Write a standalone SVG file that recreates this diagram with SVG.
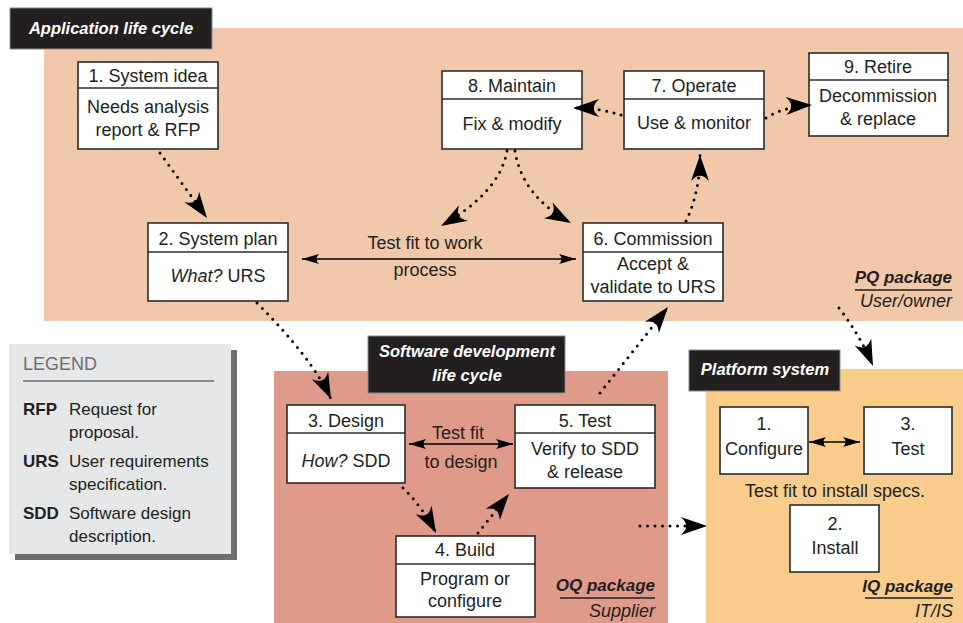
<svg xmlns="http://www.w3.org/2000/svg" width="963" height="623" viewBox="0 0 963 623">
<defs>
<style>
text{font-family:"Liberation Sans",Arial,sans-serif;fill:#231f20;font-size:18px}
.c{text-anchor:middle}
.r{text-anchor:end}
.box{fill:#fff;stroke:#2b2b2b;stroke-width:1.6}
.div{stroke:#2b2b2b;stroke-width:1.6}
.title{fill:#231f20;stroke:#8a8a8a;stroke-width:1}
.tt{fill:#fff;font-weight:bold;font-style:italic;font-size:16.5px}
.pk{font-weight:bold;font-style:italic;font-size:17px}
.pks{font-style:italic;font-size:18px}
.dot{fill:none;stroke:#000;stroke-width:3;stroke-linecap:round;stroke-dasharray:0 7.5}
.sol{fill:none;stroke:#000;stroke-width:1.6}
.lg{font-size:17px}
.lgb{font-size:17px;font-weight:bold}
</style>
<marker id="ah" viewBox="-28 -10 30 20" refX="0" refY="0" markerWidth="30" markerHeight="20" markerUnits="userSpaceOnUse" orient="auto">
<path d="M0,0 L-26,-9 Q-20,-3 -21,0 Q-20,3 -26,9 Z" fill="#000"/>
</marker>
<marker id="sh" viewBox="-18 -6 19 12" refX="0" refY="0" markerWidth="19" markerHeight="12" markerUnits="userSpaceOnUse" orient="auto-start-reverse">
<path d="M0,0 L-17,-5 Q-12,0 -17,5 Z" fill="#000"/>
</marker>
</defs>
<rect width="963" height="623" fill="#fff"/>

<g id="app-region">
<rect x="44" y="28" width="919" height="293" fill="#f1c8a9"/>
<rect class="title" x="10" y="8" width="202" height="41"/>
<text class="tt" x="111" y="34" text-anchor="middle">Application life cycle</text>
<text class="pk r" x="952" y="283">PQ package</text>
<line x1="855" y1="290" x2="952" y2="290" stroke="#231f20" stroke-width="1.3"/>
<text class="pks r" x="952" y="307">User/owner</text>
</g>
<g id="sdlc-region">
<rect x="274" y="371" width="394" height="252" fill="#df9a8a"/>
<rect class="title" x="368" y="336" width="197" height="57"/>
<text class="tt" x="467" y="357" text-anchor="middle">Software development</text>
<text class="tt" x="467" y="381" text-anchor="middle">life cycle</text>
<text class="pk r" x="655" y="591">OQ package</text>
<line x1="560" y1="598" x2="655" y2="598" stroke="#231f20" stroke-width="1.3"/>
<text class="pks r" x="655" y="617">Supplier</text>
</g>
<g id="platform-region">
<rect x="706" y="369" width="257" height="254" fill="#fbcd8d"/>
<rect class="title" x="689" y="350" width="151" height="41"/>
<text class="tt" x="765" y="375" text-anchor="middle">Platform system</text>
<text class="pk r" x="953" y="592">IQ package</text>
<line x1="865" y1="598" x2="953" y2="598" stroke="#231f20" stroke-width="1.3"/>
<text class="pks r" x="953" y="617">IT/IS</text>
<text class="c" x="835" y="497">Test fit to install specs.</text>
</g>

<g id="legend">
<rect x="15" y="350" width="222" height="210" fill="#6d6e70"/>
<rect x="9" y="344" width="222" height="210" fill="#e6e7e8"/>
<text x="23" y="370" style="fill:#6d6e70;font-size:18px">LEGEND</text>
<line x1="23" y1="381" x2="214" y2="381" stroke="#6d6e70" stroke-width="1.3"/>
<text class="lgb" x="23" y="415">RFP</text>
<text class="lg" x="69" y="415">Request for</text>
<text class="lg" x="69" y="438">proposal.</text>
<text class="lgb" x="23" y="467">URS</text>
<text class="lg" x="69" y="467">User requirements</text>
<text class="lg" x="69" y="490">specification.</text>
<text class="lgb" x="23" y="519">SDD</text>
<text class="lg" x="69" y="519">Software design</text>
<text class="lg" x="69" y="542">description.</text>
</g>

<g id="n1">
<rect class="box" x="78" y="62" width="140" height="87"/>
<line class="div" x1="78" y1="88" x2="218" y2="88"/>
<text class="c" x="148" y="82">1. System idea</text>
<text class="c" x="148" y="113">Needs analysis</text>
<text class="c" x="148" y="136">report &amp; RFP</text>
</g>
<g id="n2">
<rect class="box" x="148" y="223" width="140" height="78"/>
<line class="div" x1="148" y1="252" x2="288" y2="252"/>
<text class="c" x="218" y="245">2. System plan</text>
<text class="c" x="218" y="282"><tspan font-style="italic">What?</tspan> URS</text>
</g>
<g id="n8">
<rect class="box" x="442" y="71" width="140" height="78"/>
<line class="div" x1="442" y1="99" x2="582" y2="99"/>
<text class="c" x="512" y="92">8. Maintain</text>
<text class="c" x="512" y="130">Fix &amp; modify</text>
</g>
<g id="n7">
<rect class="box" x="624" y="71" width="140" height="78"/>
<line class="div" x1="624" y1="99" x2="764" y2="99"/>
<text class="c" x="694" y="92">7. Operate</text>
<text class="c" x="694" y="129">Use &amp; monitor</text>
</g>
<g id="n9">
<rect class="box" x="809" y="53" width="139" height="83"/>
<line class="div" x1="809" y1="80" x2="948" y2="80"/>
<text class="c" x="878" y="73">9. Retire</text>
<text class="c" x="878" y="102">Decommission</text>
<text class="c" x="878" y="125">&amp; replace</text>
</g>
<g id="n6">
<rect class="box" x="583" y="223" width="140" height="78"/>
<line class="div" x1="583" y1="252" x2="723" y2="252"/>
<text class="c" x="653" y="245">6. Commission</text>
<text class="c" x="653" y="270">Accept &amp;</text>
<text class="c" x="653" y="293">validate to URS</text>
</g>
<g id="n3">
<rect class="box" x="287" y="405" width="118" height="78"/>
<line class="div" x1="287" y1="433" x2="405" y2="433"/>
<text class="c" x="346" y="427">3. Design</text>
<text class="c" x="346" y="467"><tspan font-style="italic">How?</tspan> SDD</text>
</g>
<g id="n5">
<rect class="box" x="515" y="405" width="140" height="83"/>
<line class="div" x1="515" y1="433" x2="655" y2="433"/>
<text class="c" x="585" y="427">5. Test</text>
<text class="c" x="585" y="455">Verify to SDD</text>
<text class="c" x="585" y="478">&amp; release</text>
</g>
<g id="n4">
<rect class="box" x="396" y="536" width="139" height="81"/>
<line class="div" x1="396" y1="564" x2="535" y2="564"/>
<text class="c" x="465" y="556">4. Build</text>
<text class="c" x="465" y="585">Program or</text>
<text class="c" x="465" y="607">configure</text>
</g>
<g id="p1">
<rect class="box" x="720" y="407" width="88" height="67"/>
<text class="c" x="764" y="430">1.</text>
<text class="c" x="764" y="455">Configure</text>
</g>
<g id="p3">
<rect class="box" x="864" y="407" width="88" height="67"/>
<text class="c" x="908" y="430">3.</text>
<text class="c" x="908" y="455">Test</text>
</g>
<g id="p2">
<rect class="box" x="790" y="505" width="89" height="67"/>
<text class="c" x="835" y="530">2.</text>
<text class="c" x="835" y="554">Install</text>
</g>

<g id="connectors">
<path class="dot" d="M160,153 L207,218" marker-end="url(#ah)"/>
<path class="dot" d="M507,151 Q500,192 441,226" marker-end="url(#ah)"/>
<path class="dot" d="M515,151 Q522,196 571,223" marker-end="url(#ah)"/>
<path class="dot" d="M621,115 Q600,108 573,108" marker-end="url(#ah)"/>
<path class="dot" d="M766,118 Q785,106 812,105" marker-end="url(#ah)"/>
<path class="dot" d="M686,221 Q700,192 700,155" marker-end="url(#ah)"/>
<path class="dot" d="M600,393 L668,307" marker-end="url(#ah)"/>
<path class="dot" d="M257,303 Q312,358 331,399" marker-end="url(#ah)"/>
<path class="dot" d="M403,488 Q421,505 436,533" marker-end="url(#ah)"/>
<path class="dot" d="M478,533 L509,494" marker-end="url(#ah)"/>
<path class="dot" d="M640,526 L707,526" marker-end="url(#ah)"/>
<path class="dot" d="M839,308 Q860,335 873,366" marker-end="url(#ah)"/>
<path class="sol" d="M302,259 L576,259" marker-start="url(#sh)" marker-end="url(#sh)"/>
<path class="sol" d="M409,444 L513,444" marker-start="url(#sh)" marker-end="url(#sh)"/>
<path class="sol" d="M809,442 L860,442" marker-start="url(#sh)" marker-end="url(#sh)"/>
<text class="c" x="425" y="249">Test fit to work</text>
<text class="c" x="425" y="276">process</text>
<text class="c" x="458" y="439">Test fit</text>
<text class="c" x="461" y="468">to design</text>
</g>
</svg>
